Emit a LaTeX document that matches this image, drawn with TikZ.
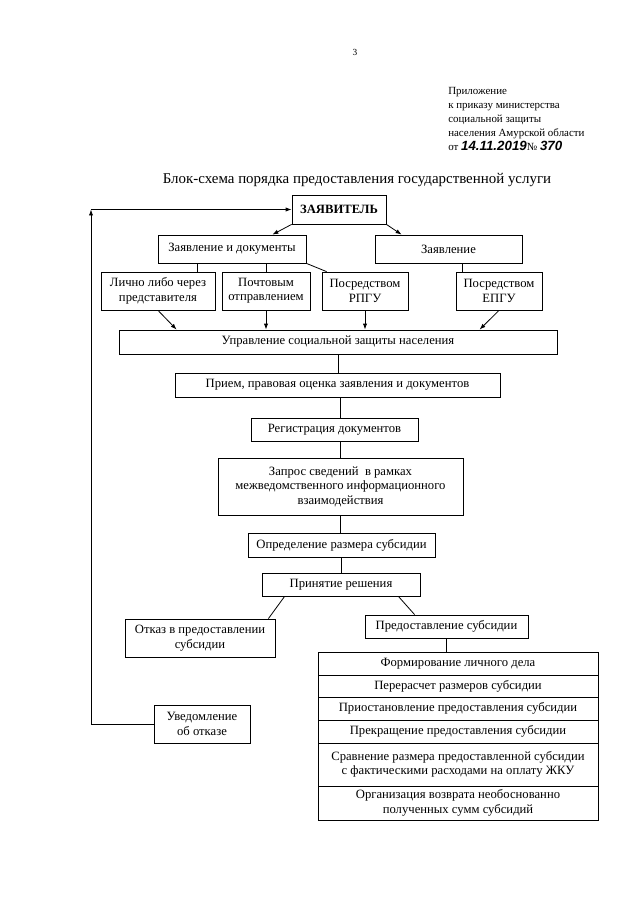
\documentclass[tikz,border=0pt]{standalone}
\usepackage{fontspec}
\setmainfont{Liberation Serif}
\setsansfont{Liberation Sans}
\usetikzlibrary{arrows.meta}
\usetikzlibrary{calc}

\begin{document}
\begin{tikzpicture}[x=0.75pt,y=0.75pt,yscale=-1,xscale=1,
  box/.style={draw, line width=0.6pt, align=center, inner sep=0pt, font=\fontsize{9.5}{10.8}\selectfont},
  wh/.style 2 args={minimum width=#1*0.75pt, minimum height=#2*0.75pt},
  ln/.style={line width=0.6pt},
  arr/.style={line width=0.6pt, -{Latex[length=4.5pt,width=3.2pt]}}]
\path[use as bounding box] (0,0) rectangle (640,905);

% Text Node
\node (pagenum) at (355,52) {\fontsize{7}{8}\selectfont 3};
% Text Node
\node (header) [anchor=north west, align=left, inner sep=0pt, font=\fontsize{8.2}{10.6}\selectfont] at (448,87)
  {Приложение\\ к приказу министерства\\ социальной защиты\\ населения Амурской области\\
   от {\sffamily\itshape\bfseries\fontsize{10}{10.6}\selectfont 14.11.2019}№ {\sffamily\itshape\bfseries\fontsize{10}{10.6}\selectfont 370}};
% Text Node
\node (title) at (357,180) {\fontsize{11.2}{12}\selectfont Блок-схема порядка предоставления государственной услуги};

%Shape: Rectangle
\node (zayav) [box, wh={94}{29}, font=\fontsize{9.5}{10.8}\selectfont\bfseries] at (339,209.5) {ЗАЯВИТЕЛЬ};
\node (docs) [box, wh={148}{28}] at (232,249) {Заявление и документы};
\node (zayavl) [box, wh={147}{28}] at (448.5,249) {Заявление};
\node (lichno) [box, wh={114}{38}] at (158,291) {Лично либо через\\ представителя};
\node (pochta) [box, wh={88}{38}] at (266,291) {Почтовым\\ отправлением};
\node (rpgu) [box, wh={86}{38}] at (365,291) {Посредством\\ РПГУ};
\node (epgu) [box, wh={86}{38}] at (499,291) {Посредством\\ ЕПГУ};
\node (uszn) [box, wh={438}{24}] at (338,342) {Управление социальной защиты населения};
\node (priem) [box, wh={325}{24}] at (337.5,385) {Прием, правовая оценка заявления и документов};
\node (reg) [box, wh={167}{23}] at (334.5,429.5) {Регистрация документов};
\node (zapros) [box, wh={245}{57}] at (340.5,486.5) {Запрос сведений \ в рамках\\ межведомственного информационного\\ взаимодействия};
\node (opred) [box, wh={187}{24}] at (341.5,545) {Определение размера субсидии};
\node (prin) [box, wh={158}{23}] at (341,584.5) {Принятие решения};
\node (otkaz) [box, wh={150}{38}] at (200,638) {Отказ в предоставлении\\ субсидии};
\node (predost) [box, wh={163}{23}] at (446.5,626.5) {Предоставление субсидии};
\node (uved) [box, wh={96}{38}] at (202,724) {Уведомление\\ об отказе};

%Shape: Rectangle (stacked rows)
\node (f1) [box, wh={280}{23}] at (458,663.5) {Формирование личного дела};
\node (f2) [box, wh={280}{22}] at (458,686) {Перерасчет размеров субсидии};
\node (f3) [box, wh={280}{23}] at (458,708.5) {Приостановление предоставления субсидии};
\node (f4) [box, wh={280}{23}] at (458,731.5) {Прекращение предоставления субсидии};
\node (f5) [box, wh={280}{43}] at (458,764.5) {Сравнение размера предоставленной субсидии\\ с фактическими расходами на оплату ЖКУ};
\node (f6) [box, wh={280}{34}] at (458,803) {Организация возврата необоснованно\\ полученных сумм субсидий};

%Straight Lines
\coordinate (corner) at (91,209.5);
\draw[arr] (uved.west) -| (corner);
\draw[arr] (corner) -- (zayav.west);
\draw[arr] (zayav.south west) -- ($(docs.north east)+(-34,0)$);
\draw[arr] (zayav.south east) -- ($(zayavl.north west)+(27,0)$);

\coordinate (l1) at ($(lichno.north east)+(-18,0)$);
\coordinate (e1) at ($(epgu.north west)+(7,0)$);
\draw[ln] (l1) -- (l1 |- docs.south);
\draw[ln] (pochta.north) -- (pochta.north |- docs.south);
\draw[ln] (docs.south east) -- ($(rpgu.north west)+(5,0)$);
\draw[ln] (e1) -- (e1 |- zayavl.south);

\draw[arr] (lichno.south) -- ($(uszn.north west)+(58,0)$);
\draw[arr] (pochta.south) -- (pochta.south |- uszn.north);
\draw[arr] (rpgu.south) -- (rpgu.south |- uszn.north);
\draw[arr] (epgu.south) -- ($(uszn.north west)+(361,0)$);

\draw[ln] (uszn.south) -- (uszn.south |- priem.north);
\draw[ln] (priem.south -| zapros.north) -- (reg.north -| zapros.north);
\draw[ln] (reg.south -| zapros.north) -- (zapros.north);
\draw[ln] (zapros.south) -- (zapros.south |- opred.north);
\draw[ln] (opred.south) -- (opred.south |- prin.north);
\draw[ln] ($(prin.south west)+(23,0)$) -- ($(otkaz.north east)+(-7,0)$);
\draw[ln] ($(prin.south east)+(-22,0)$) -- ($(predost.north west)+(50,0)$);
\draw[ln] (predost.south) -- (predost.south |- f1.north);

\end{tikzpicture}
\end{document}
